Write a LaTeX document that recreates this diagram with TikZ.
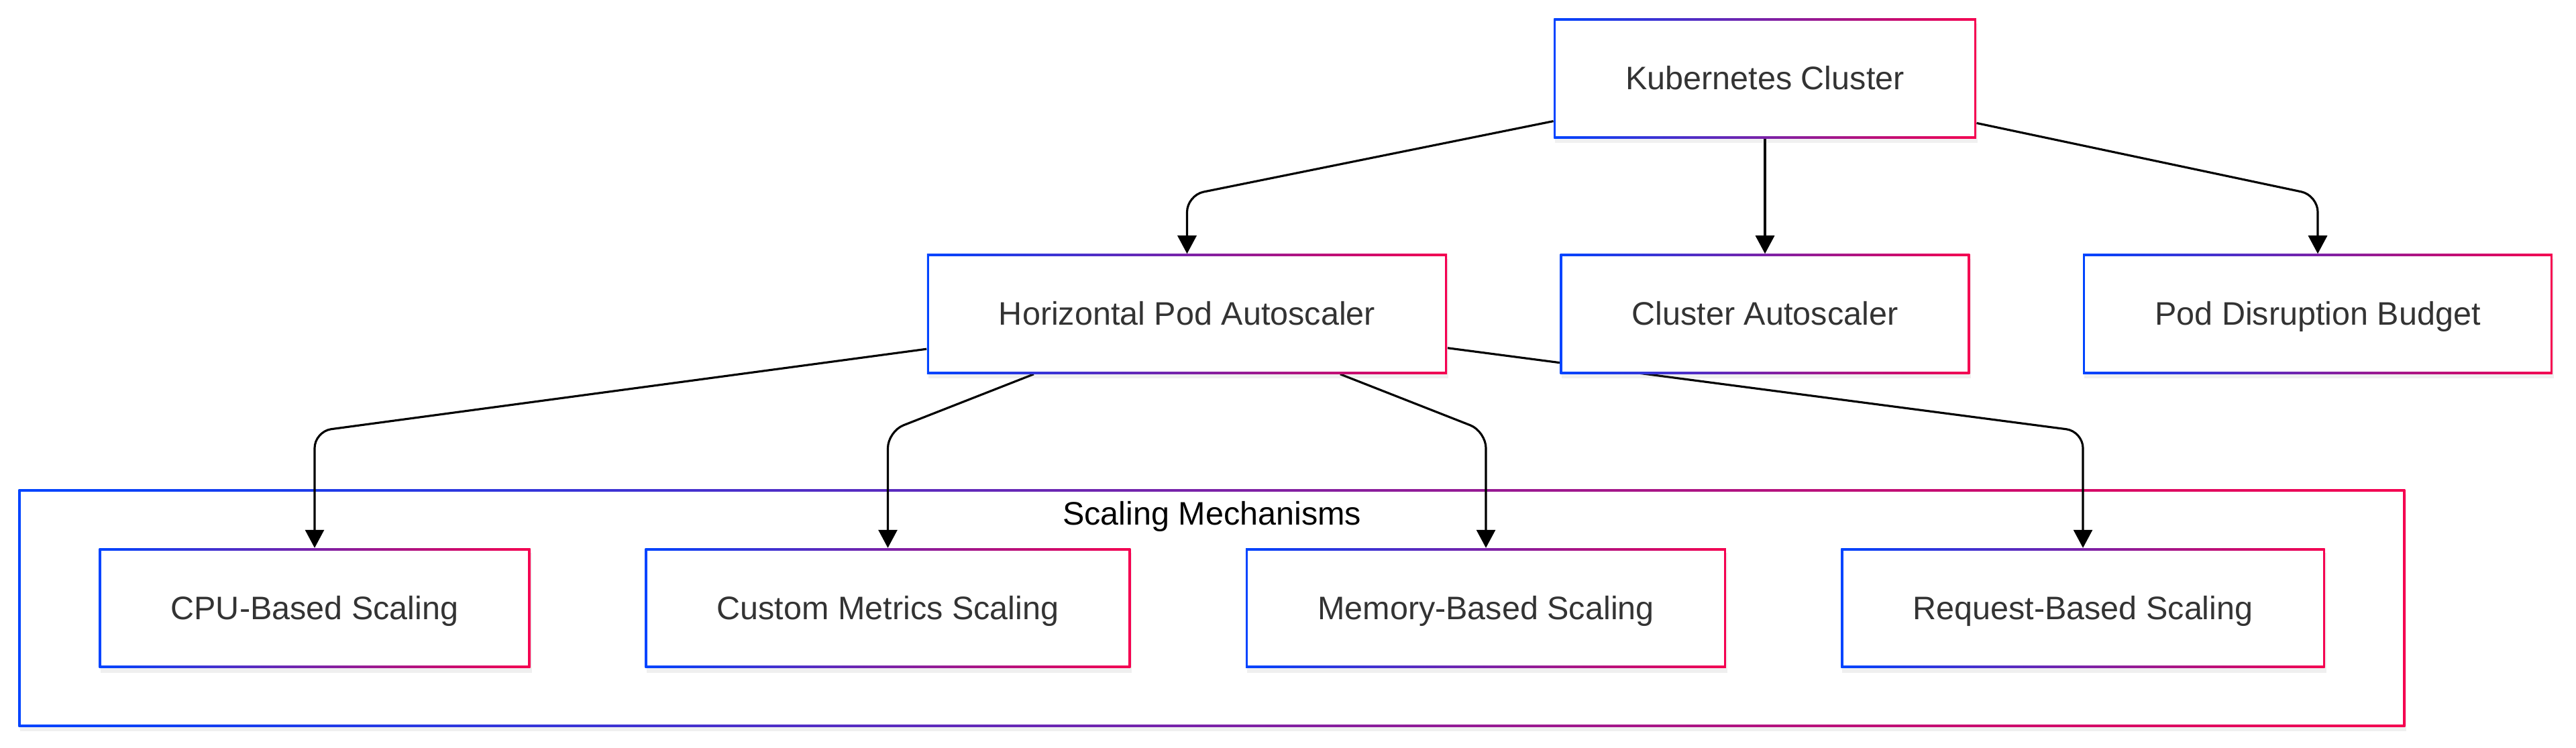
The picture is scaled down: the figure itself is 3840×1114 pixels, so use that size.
\documentclass[tikz,border=0pt]{standalone}
\usepackage{fontspec}
\setmainfont{Liberation Sans}
\usepackage{xcolor}
\usepackage{tikz}
\usetikzlibrary{calc,backgrounds,fit,shadows,arrows.meta}
\definecolor{edgeblue}{HTML}{0044FF}
\definecolor{edgered}{HTML}{F50050}
\definecolor{txtgray}{HTML}{333333}
\tikzstyle{gradbox} = [rectangle, fill=white, inner sep=0pt, inner xsep=1.07cm, minimum height=1.78cm,
  text height=0.43cm, text depth=0.1cm, font=\fontsize{13.8}{16}\selectfont, text=txtgray,
  drop shadow={opacity=0.12, shadow xshift=0.02cm, shadow yshift=-0.07cm},
  path picture={\shade[left color=edgeblue, right color=edgered] (path picture bounding box.south west) rectangle (path picture bounding box.north east);
    \fill[white] ([shift={(0.9pt,0.9pt)}]path picture bounding box.south west) rectangle ([shift={(-0.9pt,-0.9pt)}]path picture bounding box.north east);}]
\tikzstyle{flow} = [line width=0.9pt, rounded corners=0.25cm, -{Triangle[length=2.7mm, width=2.8mm]}]
\tikzstyle{caption} = [anchor=base, inner sep=0pt, font=\fontsize{13.8}{16}\selectfont, text=black]

\begin{document}
\begin{tikzpicture}
    [x=0.01cm,y=-0.01cm]
      \useasboundingbox (0,0) rectangle (3840,1114);
      \node [gradbox](kc) at (2631,117) {Kubernetes Cluster};
      \node [gradbox](hpa) at (1769.5,468) {Horizontal Pod Autoscaler};
      \node [gradbox](ca) at (2631,468) {Cluster Autoscaler};
      \node [gradbox](pdb) at (3455,468) {Pod Disruption Budget};
      \node [gradbox](cpu) at (469,906.5) {CPU-Based Scaling};
      \node [gradbox](cms) at (1323.5,906.5) {Custom Metrics Scaling};
      \node [gradbox](mem) at (2215,906.5) {Memory-Based Scaling};
      \node [gradbox](req) at (3105,906.5) {Request-Based Scaling};

      \coordinate (kchpa) at (1769.5,291);
      \coordinate (kcpdb) at (3455,291);
      \coordinate (hpacpu) at (469,643);
      \coordinate (hpacms) at (1323.5,643);
      \coordinate (hpamem) at (2215,643);
      \coordinate (hpareq) at (3105,643);

      \begin{scope}[on background layer]
        \node [gradbox, fit=(cpu)(cms)(mem)(req), inner xsep=1.19cm, inner ysep=0.87cm](scaling) {};
        \draw [flow] (kc) -- (ca);
        \foreach \src/\bend/\dst in {kc/kchpa/hpa,kc/kcpdb/pdb,hpa/hpacpu/cpu,hpa/hpacms/cms,hpa/hpamem/mem,hpa/hpareq/req}
          \draw [flow] (\src) -- (\bend) -- (\dst);
      \end{scope}
      \node [caption](scalinglbl) at ([yshift=-0.53cm]scaling.north) {Scaling Mechanisms};

    \end{tikzpicture}
\end{document}
